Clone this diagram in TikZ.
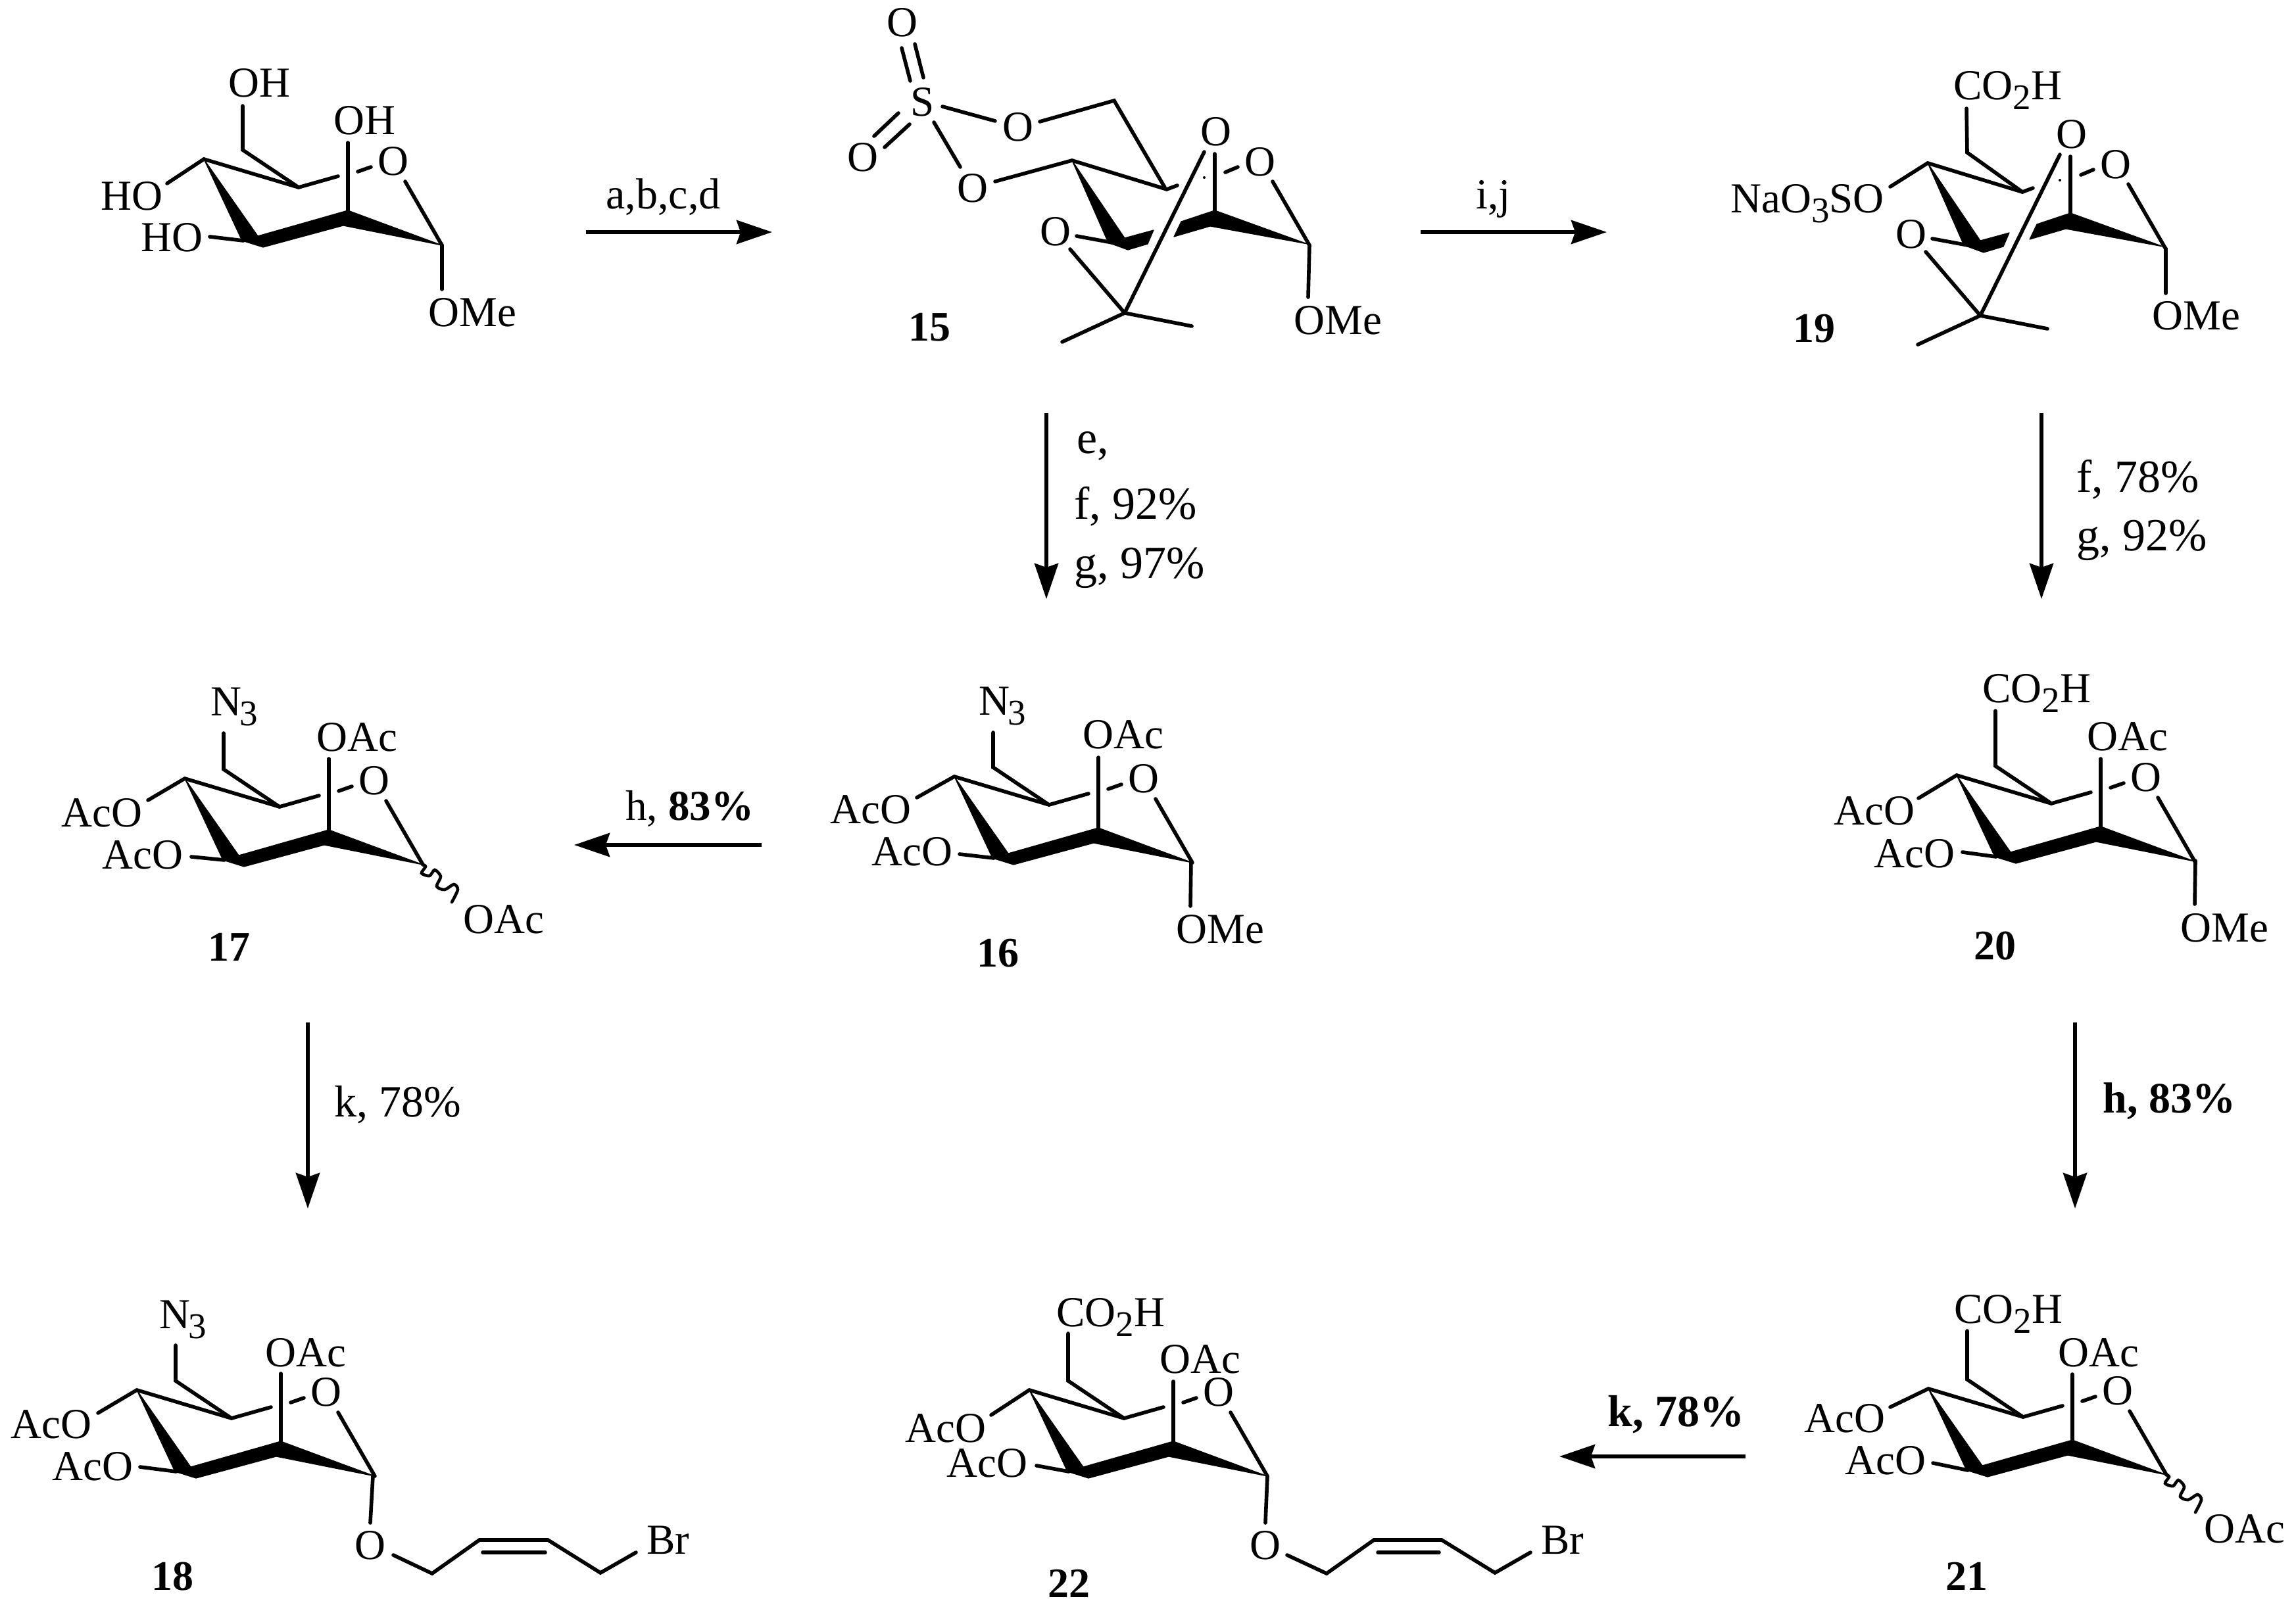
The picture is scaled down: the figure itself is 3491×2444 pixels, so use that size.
\documentclass[tikz,border=0pt]{standalone}
\usepackage{fontspec}
\setmainfont{Liberation Serif}
\usetikzlibrary{arrows.meta}
\newcommand\sbs[1]{\raisebox{-7.5pt}{\fontsize{27.5}{27.5}\selectfont #1}}
\tikzset{
  bond/.style={line width=2.8pt,line cap=round,line join=miter},
  wedge/.style={fill=black,draw=black,line width=0.6pt,line join=round},
  wavy/.style={line width=2.3pt,line cap=round},
  chem/.style={font=\fontsize{32.5}{32.5}\selectfont,inner sep=0pt,anchor=base west},
  atom/.style={font=\fontsize{32.5}{32.5}\selectfont,inner sep=0pt,anchor=center},
  cpd/.style={font=\bfseries\fontsize{32}{32}\selectfont,inner sep=0pt,anchor=base},
  cond/.style={font=\fontsize{35}{35}\selectfont,inner sep=0pt,anchor=base west},
  condb/.style={font=\bfseries\fontsize{33}{33}\selectfont,inner sep=0pt,anchor=base west},
  rxn/.style={line width=3pt,-{Stealth[length=27pt,width=18pt,inset=3pt]}},
}
% pyranose chair: name, x, y, CH2 top dy, axial top dy, O-1 bond end, O-2 bond end
\newcommand\pyr[7]{%
\begin{scope}[shift={(#2,#3)}]
  \fill[wedge] (0,0) -- (82,117) -- (219,78) -- (362,131) -- (212,101) -- (90,134) -- (58,124) -- cycle;
  \draw[bond] (0,0) -- (144,43) -- (204,26);
  \draw[bond] (234,19) -- (254,12);
  \draw[bond] (59,#4) -- (59,-14) -- (144,43);
  \draw[bond] (219,#5) -- (219,78);
  \draw[bond] (306,34) -- (362,131);
  \draw[bond] #6 -- (0,0);
  \draw[bond] #7 -- (60,124);
  \node[atom] (#1-ring) at (288,3) {O};
\end{scope}}
% fused acetonide-protected chair: name, x, y
\newcommand\lockring[3]{%
\begin{scope}[shift={(#2,#3)}]
  \fill[wedge] (0,0) -- (80,118) -- (124,106) -- (115,127) -- (85,136) -- (55,125) -- cycle;
  \fill[wedge] (217,76) -- (358,127) -- (210,100) -- (155,116) -- (166,93) -- cycle;
  \draw[bond] (0,0) -- (144,44) -- (160,38);
  \draw[bond] (201,-13) -- (80,232);
  \fill (201,26) circle (2);
  \draw[bond] (217,-10) -- (217,76);
  \draw[bond] (233,18) -- (252,10);
  \draw[bond] (305,32) -- (361,129);
  \draw[bond] (7,115) -- (61,125);
  \draw[bond] (-3,135) -- (80,232) -- (-15,276);
  \draw[bond] (80,232) -- (182,252);
  \node[atom] (#1-ring) at (286,2) {O};
  \node[atom] (#1-up) at (219,-44) {O};
  \node[atom] (#1-low) at (-25,108) {O};
\end{scope}}
\begin{document}
\begin{tikzpicture}[x=0.5pt,y=-0.5pt]
\useasboundingbox (0,0) rectangle (3491,2444);

% ---- starting material
\pyr{m14}{310}{242}{-81}{-25}{(-56,37)}{(9,118)}
\draw[bond] (672,373) -- (672,440);
\node[chem] (m14oh1) at (347,148) {OH};
\node[chem] (m14oh2) at (507,205) {OH};
\node[chem] (m14ho1) at (153,320) {HO};
\node[chem] (m14ho2) at (214,383) {HO};
\node[chem] (m14ome) at (651,497) {OMe};

% ---- 15
\lockring{m15}{1630}{244}
\draw[bond] (1771,285) -- (1694,153) -- (1581,185);
\draw[bond] (1513,184) -- (1433,162);
\draw[bond] (1420,186) -- (1460,254);
\draw[bond] (1513,276) -- (1630,244);
\draw[bond] (1371,73) -- (1384,123);
\draw[bond] (1391,67) -- (1404,118);
\draw[bond] (1366,172) -- (1329,207);
\draw[bond] (1383,189) -- (1345,224);
\draw[bond] (1991,373) -- (1989,452);
\node[atom] (m15s) at (1403,155) {S};
\node[atom] (m15o1) at (1372,34) {O};
\node[atom] (m15o2) at (1312,239) {O};
\node[atom] (m15o3) at (1548,193) {O};
\node[atom] (m15o4) at (1479,286) {O};
\node[chem] (m15ome) at (1967,509) {OMe};
\node[cpd] (c15) at (1413,519) {15};

% ---- 19
\lockring{m19}{2931}{248}
\draw[bond] (2990,165) -- (2991,232) -- (3075,292);
\draw[bond] (2874,284) -- (2931,248);
\draw[bond] (3293,378) -- (3293,446);
\node[chem] (m19co) at (2970,152) {CO\sbs{2}H};
\node[chem] (m19na) at (2631,324) {NaO\sbs{3}SO};
\node[chem] (m19ome) at (3272,502) {OMe};
\node[cpd] (c19) at (2758,521) {19};

% ---- 16
\pyr{m16}{1451}{1181}{-67}{-29}{(-57,32)}{(8,118)}
\draw[bond] (1811,1309) -- (1810,1378);
\node[chem] (m16n) at (1488,1087) {N\kern-1.5pt\sbs{3}};
\node[chem] (m16oac) at (1646,1138) {OAc};
\node[chem] (m16aco1) at (1262,1252) {AcO};
\node[chem] (m16aco2) at (1325,1316) {AcO};
\node[chem] (m16ome) at (1788,1434) {OMe};
\node[cpd] (c16) at (1517,1470) {16};

% ---- 17
\pyr{m17}{281}{1184}{-69}{-30}{(-56,33)}{(10,119)}
\draw[wavy] plot[smooth] coordinates {(643,1315) (647,1318) (641,1328) (653,1332) (661,1323) (670,1333) (664,1348) (676,1353) (690,1345) (696,1353) (687,1372)};
\node[chem] (m17n) at (320,1088) {N\kern-1.5pt\sbs{3}};
\node[chem] (m17oac) at (481,1142) {OAc};
\node[chem] (m17aco1) at (93,1257) {AcO};
\node[chem] (m17aco2) at (155,1321) {AcO};
\node[chem] (m17oac2) at (704,1419) {OAc};
\node[cpd] (c17) at (348,1461) {17};

% ---- 18
\pyr{m18}{208}{2114}{-68}{-25}{(-59,35)}{(5,117)}
\draw[bond] (567,2245) -- (563,2316);
\draw[bond] (598,2365) -- (657,2393) -- (729,2342) -- (833,2342) -- (913,2392) -- (967,2361);
\draw[bond] (734,2361) -- (829,2361);
\node[chem] (m18n) at (242,2020) {N\kern-1.5pt\sbs{3}};
\node[chem] (m18oac) at (403,2078) {OAc};
\node[chem] (m18aco1) at (16,2187) {AcO};
\node[chem] (m18aco2) at (79,2251) {AcO};
\node[atom] (m18o) at (563,2350) {O};
\node[chem] (m18br) at (983,2363) {Br};
\node[cpd] (c18) at (262,2418) {18};

% ---- 20
\pyr{m20}{2975}{1179}{-98}{-25}{(-58,35)}{(9,117)}
\draw[bond] (3338,1309) -- (3337,1375);
\node[chem] (m20co) at (3014,1068) {CO\sbs{2}H};
\node[chem] (m20oac) at (3173,1141) {OAc};
\node[chem] (m20aco1) at (2788,1254) {AcO};
\node[chem] (m20aco2) at (2849,1319) {AcO};
\node[chem] (m20ome) at (3315,1432) {OMe};
\node[cpd] (c20) at (3033,1459) {20};

% ---- 21
\pyr{m21}{2932}{2112}{-88}{-22}{(-58,28)}{(7,113)}
\draw[wavy] plot[smooth] coordinates {(3294,2243) (3298,2246) (3292,2256) (3304,2260) (3312,2251) (3321,2261) (3315,2276) (3327,2281) (3341,2273) (3347,2281) (3338,2300)};
\node[chem] (m21co) at (2971,2012) {CO\sbs{2}H};
\node[chem] (m21oac) at (3129,2078) {OAc};
\node[chem] (m21aco1) at (2743,2178) {AcO};
\node[chem] (m21aco2) at (2805,2242) {AcO};
\node[chem] (m21oac2) at (3351,2346) {OAc};
\node[cpd] (c21) at (2990,2418) {21};

% ---- 22
\pyr{m22}{1565}{2114}{-86}{-13}{(-58,38)}{(11,115)}
\draw[bond] (1927,2245) -- (1924,2316);
\draw[bond] (1957,2365) -- (2017,2393) -- (2089,2342) -- (2192,2342) -- (2273,2392) -- (2327,2361);
\draw[bond] (2095,2361) -- (2188,2361);
\node[chem] (m22co) at (1606,2017) {CO\sbs{2}H};
\node[chem] (m22oac) at (1763,2088) {OAc};
\node[chem] (m22aco1) at (1376,2193) {AcO};
\node[chem] (m22aco2) at (1439,2246) {AcO};
\node[atom] (m22o) at (1924,2350) {O};
\node[chem] (m22br) at (2343,2363) {Br};
\node[cpd] (c22) at (1625,2429) {22};

% ---- reaction arrows
\coordinate (a1s) at (891,353);  \coordinate (a1e) at (1174,353);
\coordinate (a2s) at (2160,353); \coordinate (a2e) at (2443,353);
\coordinate (a3s) at (1591,628); \coordinate (a3e) at (1591,911);
\coordinate (a4s) at (3104,628); \coordinate (a4e) at (3104,911);
\coordinate (a5s) at (1158,1285); \coordinate (a5e) at (873,1285);
\coordinate (a6s) at (468,1555); \coordinate (a6e) at (468,1838);
\coordinate (a7s) at (3155,1555); \coordinate (a7e) at (3155,1838);
\coordinate (a8s) at (2654,2215); \coordinate (a8e) at (2371,2215);
\draw[rxn] (a1s) -- (a1e);
\draw[rxn] (a2s) -- (a2e);
\draw[rxn] (a3s) -- (a3e);
\draw[rxn] (a4s) -- (a4e);
\draw[rxn] (a5s) -- (a5e);
\draw[rxn] (a6s) -- (a6e);
\draw[rxn] (a7s) -- (a7e);
\draw[rxn] (a8s) -- (a8e);

\node[chem,font=\fontsize{33}{33}\selectfont] (t1) at (921,318) {a,b,c,d};
\node[chem] (t2) at (2244,318) {i,j};
\node[cond] (t3) at (1637,690) {e,};
\node[cond] (t4) at (1633,790) {f, 92\%};
\node[cond] (t5) at (1633,879) {g, 97\%};
\node[cond] (t6) at (3157,748) {f, 78\%};
\node[cond] (t7) at (3157,837) {g, 92\%};
\node[cond,font=\fontsize{32.5}{32.5}\selectfont] (t8) at (951,1247) {h, \textbf{83\%}};
\node[cond,font=\fontsize{34}{34}\selectfont] (t9) at (508,1698) {k, 78\%};
\node[condb] (t10) at (3197,1692) {h, 83\%};
\node[condb,font=\bfseries\fontsize{34}{34}\selectfont] (t11) at (2444,2169) {k, 78\%};
\end{tikzpicture}
\end{document}
